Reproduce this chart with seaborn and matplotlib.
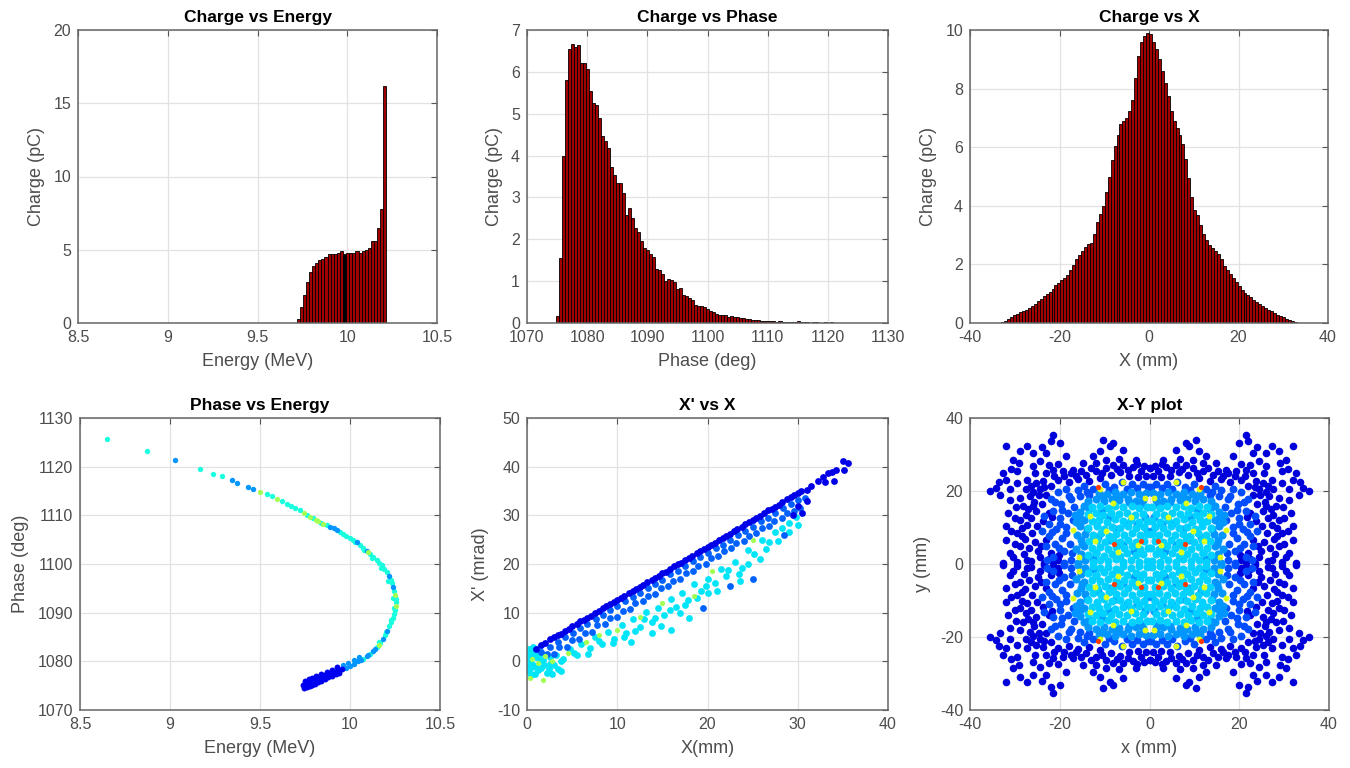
import numpy as np
import pandas as pd
import matplotlib
matplotlib.use("Agg")
import matplotlib.pyplot as plt
import seaborn as sns
from matplotlib.ticker import FuncFormatter

# ---------------- histogram data (charge per bin, pC) ----------------
energy_start, energy_width = 9.718, 0.01724
energy_charge = [0.3, 1.1, 1.9, 2.8, 3.5, 3.9, 4.1, 4.3, 4.4, 4.5, 4.7, 4.7, 4.7, 4.8, 4.9,
                 4.7, 4.8, 4.8, 4.8, 4.9, 4.8, 4.9, 5.0, 5.1, 5.6, 5.6, 6.5, 7.8, 16.2]

phase_start, phase_width = 1074.8, 0.5
phase_charge = [0.17, 1.56, 4.0, 5.8, 6.55, 6.66, 6.6, 6.63, 6.2, 6.2, 6.06, 5.54, 5.26, 5.22, 4.9,
                4.46, 4.34, 4.18, 3.72, 3.53, 3.34, 3.34, 3.1, 2.58, 2.74, 2.5, 2.26, 2.18, 1.96, 1.8,
                1.74, 1.66, 1.58, 1.3, 1.26, 1.16, 1.0, 1.06, 1.02, 0.98, 0.82, 0.84, 0.66, 0.65, 0.6,
                0.54, 0.42, 0.41, 0.41, 0.38, 0.34, 0.28, 0.26, 0.22, 0.2, 0.18, 0.18, 0.14,
                0.16, 0.15, 0.14, 0.12, 0.11, 0.1, 0.09, 0.08, 0.07, 0.06, 0.05, 0.05, 0.04, 0.04,
                0.04, 0.03, 0.04, 0.03, 0.03, 0.02, 0.03, 0.02, 0.04, 0.03, 0.02, 0.02, 0.01, 0.02,
                0.03, 0.01, 0.01, 0.02, 0.01, 0.02, 0.01, 0.01, 0.0, 0.01, 0.01, 0.0, 0.01, 0.0, 0.0, 0.01]

x_start, x_width = -33.0, 0.66
x_charge = [0.03, 0.08, 0.14, 0.22, 0.28, 0.31, 0.36, 0.41, 0.46, 0.52,
            0.58, 0.66, 0.74, 0.83, 0.92, 1.0, 1.07, 1.16, 1.28, 1.36,
            1.46, 1.55, 1.65, 1.8, 1.98, 2.17, 2.32, 2.45, 2.6, 2.68,
            2.74, 3.05, 3.45, 3.72, 4.0, 4.48, 5.0, 5.55, 6.05, 6.42,
            6.8, 6.9, 7.0, 7.25, 7.6, 8.35, 9.1, 9.6, 9.8, 9.9,
            9.85, 9.6, 9.35, 9.0, 8.6, 8.2, 7.75, 7.25, 6.9, 6.65,
            6.4, 6.1, 5.6, 4.95, 4.3, 3.85, 3.68, 3.35, 3.05, 2.82,
            2.66, 2.55, 2.45, 2.35, 2.2, 1.95, 1.8, 1.66, 1.53, 1.4,
            1.26, 1.14, 1.04, 0.96, 0.88, 0.8, 0.72, 0.64, 0.57, 0.5,
            0.45, 0.4, 0.34, 0.28, 0.23, 0.19, 0.15, 0.1, 0.06, 0.02]

# ---------------- Phase vs Energy points (MeV, deg) ----------------
pe_cyan = [(8.648, 1125.7), (8.87, 1123.3), (9.167, 1119.6), (9.24, 1118.5), (9.287, 1118.0),
           (9.537, 1114.3), (9.565, 1113.9), (9.62, 1112.9), (9.648, 1112.4), (9.67, 1112.0),
           (9.694, 1111.5), (9.722, 1111.0), (9.76, 1110.1), (9.796, 1109.4), (9.84, 1108.5),
           (9.87, 1108.0), (9.945, 1106.6), (9.963, 1106.2), (9.98, 1105.8), (10.0, 1105.4),
           (10.018, 1105.0), (10.055, 1103.9), (10.074, 1103.3), (10.111, 1102.1), (10.13, 1101.5),
           (10.148, 1100.9), (10.162, 1100.3), (10.176, 1099.7), (10.19, 1099.0), (10.204, 1098.3),
           (10.226, 1096.8), (10.234, 1096.0), (10.246, 1094.5), (10.253, 1092.9), (10.254, 1092.1),
           (10.25, 1090.6), (10.244, 1089.7), (10.237, 1088.9), (10.228, 1088.0), (10.219, 1087.2),
           (10.194, 1085.4), (10.167, 1083.7), (10.149, 1082.9), (10.112, 1081.6), (10.07, 1080.5),
           (10.24, 1093.0), (10.245, 1091.0), (10.21, 1096.5), (10.17, 1099.2), (10.12, 1101.2),
           (10.08, 1102.8), (10.03, 1104.6), (10.23, 1088.4), (10.2, 1086.0), (10.16, 1084.0)]
pe_blue = [(9.028, 1121.4), (9.343, 1117.2), (9.374, 1116.7), (9.435, 1115.9), (9.46, 1115.5),
           (9.889, 1107.7), (9.91, 1107.3), (9.926, 1106.9), (10.037, 1104.5), (10.092, 1102.7),
           (10.215, 1097.6), (10.241, 1095.3), (10.207, 1086.3), (10.181, 1084.5), (10.13, 1082.2),
           (10.093, 1081.0), (10.046, 1080.0), (10.023, 1079.5), (10.0, 1079.1), (10.02, 1080.3),
           (10.05, 1080.9), (9.99, 1079.7), (9.96, 1079.2), (9.977, 1078.7), (10.14, 1082.6),
           (10.1, 1081.3), (10.06, 1080.2)]
pe_dark = [(9.954, 1078.4), (9.93, 1078.0), (9.907, 1077.7), (9.884, 1077.4), (9.861, 1077.1),
           (9.838, 1076.8), (9.815, 1076.5), (9.797, 1076.1), (9.778, 1075.8), (9.76, 1075.5),
           (9.741, 1075.2), (9.745, 1074.6), (9.76, 1074.7), (9.775, 1074.9), (9.79, 1075.1),
           (9.805, 1075.4), (9.82, 1075.7), (9.84, 1076.0), (9.86, 1076.3), (9.88, 1076.7),
           (9.90, 1077.0), (9.92, 1077.3), (9.94, 1077.6), (9.75, 1075.9), (9.77, 1076.3),
           (9.79, 1076.6), (9.81, 1077.0), (9.84, 1077.3), (9.87, 1077.8), (9.90, 1078.3),
           (9.93, 1078.8)]
pe_green = [(9.50, 1114.8), (9.593, 1113.4), (9.745, 1110.5), (9.78, 1109.7), (9.81, 1109.1),
            (9.824, 1108.8), (9.852, 1108.3), (10.25, 1093.7), (10.253, 1091.3), (10.1, 1102.4),
            (10.16, 1083.3)]

# ---------------- X' vs X points (mm, mrad) ----------------
xp_dark = [(1.0, 2.6), (2.0, 3.8), (3.0, 4.9), (3.8, 5.6), (4.6, 6.6), (5.5, 7.6), (6.3, 8.5),
           (7.1, 9.3), (8.0, 10.4), (8.8, 11.3), (9.6, 12.1), (10.4, 13.0), (11.3, 14.0), (12.1, 14.8),
           (12.9, 15.7), (13.8, 16.7), (14.6, 17.6), (15.4, 18.4), (16.3, 19.5), (17.1, 20.3),
           (17.9, 21.2), (18.8, 22.3), (19.6, 23.0), (20.4, 23.9), (21.3, 25.0), (22.1, 25.8),
           (22.9, 26.7), (23.8, 27.7), (24.6, 28.6), (25.4, 29.4), (26.3, 30.5), (27.1, 31.3),
           (27.9, 32.2), (28.8, 33.3), (29.6, 34.1), (30.4, 34.9), (31.0, 35.3),
           (31.5, 36.0), (32.2, 37.0), (32.8, 37.8), (33.3, 38.6), (33.8, 39.0), (34.2, 39.4),
           (33.0, 36.8), (34.0, 37.0), (35.0, 41.2), (35.6, 40.8), (35.1, 39.3), (31.0, 33.0),
           (30.0, 32.0), (30.5, 30.5), (29.5, 30.0),
           (1.5, 3.4), (2.5, 4.5), (3.4, 5.4), (4.2, 6.3), (5.0, 7.2), (5.9, 8.2), (6.7, 9.0),
           (7.5, 9.9), (8.4, 10.9), (9.2, 11.8), (10.0, 12.6), (10.8, 13.5), (11.7, 14.5),
           (12.5, 15.3), (13.3, 16.2), (14.2, 17.2), (15.0, 18.1), (15.8, 18.9), (16.7, 19.9),
           (17.5, 20.8), (18.3, 21.7), (19.2, 22.7), (20.0, 23.5), (20.8, 24.4), (21.7, 25.4),
           (22.5, 26.2), (23.3, 27.2), (24.2, 28.2), (25.0, 29.0), (25.8, 29.9), (26.7, 31.0),
           (27.5, 31.8), (28.3, 32.7), (29.2, 33.7), (30.0, 34.5)]
xp_blue = [(1.5, 2.0), (2.5, 3.0), (3.4, 4.0), (4.2, 5.0), (5.1, 5.9), (5.9, 6.9), (6.7, 7.7),
           (7.6, 8.8), (8.4, 9.6), (9.2, 10.5), (10.0, 11.4), (10.9, 12.3), (11.7, 13.3), (12.5, 14.1),
           (13.4, 15.1), (14.2, 15.9), (15.0, 16.8), (15.9, 17.9), (16.7, 18.6), (17.5, 19.5),
           (18.4, 20.6), (19.2, 21.4), (20.0, 22.2), (20.9, 23.3), (21.7, 24.0), (22.5, 25.0),
           (23.4, 26.0), (24.2, 26.8), (25.0, 27.6), (25.9, 28.8), (26.7, 29.5), (27.5, 30.4),
           (28.4, 31.5), (29.2, 32.3), (30.0, 33.1), (30.8, 33.6),
           (2.2, 1.5), (3.6, 2.9), (5.0, 4.4), (6.4, 5.8), (7.8, 7.4), (9.2, 8.9), (10.6, 10.4),
           (12.0, 11.9), (13.4, 13.5), (14.8, 15.0), (16.2, 16.6), (17.6, 18.1), (19.0, 19.6),
           (20.4, 21.2), (21.8, 22.7), (23.2, 24.3), (24.6, 25.7), (26.0, 27.3), (27.4, 28.8),
           (28.8, 30.4), (30.2, 31.5), (19.5, 11.0), (22.5, 15.5), (25.0, 17.0), (28.5, 26.0),
           (3.0, 1.5), (4.4, 3.0), (5.8, 4.6), (7.2, 6.1), (8.6, 7.7), (10.0, 9.2), (11.4, 10.8),
           (12.8, 12.3), (14.2, 13.9), (15.6, 15.4), (17.0, 17.0), (18.4, 18.5), (19.8, 20.1),
           (21.2, 21.6), (22.6, 23.2), (24.0, 24.7), (25.4, 26.3), (26.8, 27.8), (28.2, 29.4),
           (29.6, 30.9)]
xp_cyan = [(1.0, -1.0), (1.8, 0.2), (2.6, -0.5), (3.2, 1.2), (4.0, 0.4), (4.8, 2.5), (5.5, 1.3),
           (6.0, 3.6), (7.0, 2.8), (7.5, 4.9), (8.3, 3.5), (9.0, 6.0), (9.6, 4.6), (10.5, 7.5),
           (11.0, 5.8), (11.8, 8.6), (12.5, 7.0), (13.2, 10.2), (13.8, 8.0), (14.5, 11.0),
           (15.2, 9.6), (16.0, 12.8), (16.5, 11.2), (17.2, 14.0), (17.8, 12.5), (18.5, 15.8),
           (19.3, 14.5), (20.0, 17.0), (20.8, 16.0), (21.5, 19.0), (22.3, 18.8), (23.0, 20.5),
           (23.8, 19.2), (24.5, 22.8), (25.2, 22.0), (26.0, 25.0), (26.8, 24.5), (27.5, 26.5),
           (28.2, 27.5), (29.0, 28.5), (29.8, 29.6), (13.8, 5.8), (16.0, 6.5), (17.0, 10.0),
           (23.6, 16.5), (20.0, 14.0), (24.5, 20.0),
           (0.2, 2.5), (0.4, 1.2), (0.3, 0.0), (0.6, -1.2), (0.2, -2.0), (0.8, 2.0), (1.0, 0.8),
           (1.2, -1.8), (1.5, 1.5), (0.5, -0.5), (0.9, -2.6), (1.6, -1.3), (2.2, -2.3), (2.8, -2.6),
           (3.4, -1.6), (2.5, 0.8), (0.1, 1.5), (0.7, 3.0), (1.3, 2.7),
           (3.8, 0.0), (5.2, 1.8), (6.8, 1.5), (8.0, 4.2), (9.5, 3.8), (10.8, 5.0), (12.0, 6.2),
           (13.0, 8.8), (14.2, 9.0), (15.8, 10.5), (17.5, 11.5), (18.8, 13.0), (19.8, 15.5),
           (21.0, 14.5), (22.0, 17.5), (23.5, 18.0), (25.8, 21.0), (26.5, 23.0), (27.8, 24.8),
           (29.0, 26.5), (30.0, 28.0), (11.5, 4.0), (14.8, 7.2), (18.0, 9.0),
           (0.1, -1.0), (0.4, -2.8), (0.1, 0.6), (1.1, 1.8), (1.9, -0.8), (2.4, -1.5), (0.6, 2.2),
           (1.4, 0.3), (3.0, -0.8), (3.8, -2.0)]
xp_green = [(0.5, 0.5), (1.2, -0.3), (2.0, 1.0), (2.8, 0.0), (4.5, 1.8), (6.5, 4.0), (8.0, 5.5),
            (10.0, 6.5), (12.5, 9.2), (15.0, 12.0), (18.5, 13.5), (20.5, 18.5), (25.0, 25.0),
            (0.3, -3.5), (1.8, -3.8)]

# ---------------- X-Y points, one quadrant (mm); the beam is mirror symmetric ----------------
xy_dark = [(0.0, 26.3), (3.0, 28.6), (5.9, 31.3), (8.1, 33.2), (10.4, 34.1), (8.9, 32.2), (11.1, 30.9),
           (12.6, 29.5), (14.8, 27.7), (17.0, 25.8), (18.5, 29.5), (20.0, 33.2), (21.5, 35.4),
           (21.9, 33.6), (23.0, 30.4), (24.4, 28.1), (25.9, 26.8), (27.4, 32.2), (28.9, 30.9),
           (30.4, 28.6), (31.9, 32.2), (29.6, 25.4), (32.6, 24.9), (34.1, 20.8), (35.6, 19.9),
           (33.3, 19.0), (31.1, 17.6), (31.9, 23.1), (29.6, 22.2), (31.5, 14.0), (31.9, 10.3),
           (31.9, 6.7), (31.1, 3.0), (32.6, 0.3), (29.6, 0.5), (27.4, 1.2), (28.9, 4.8), (29.6, 8.5),
           (28.9, 12.1), (28.1, 15.8), (26.7, 18.5), (27.4, 23.1), (25.2, 22.2), (23.0, 24.9),
           (21.5, 25.8), (19.3, 25.4), (16.3, 24.0), (14.1, 24.5), (11.9, 25.4), (9.6, 26.3),
           (8.1, 27.2), (5.9, 27.2), (3.7, 26.6), (1.9, 25.4),
           (20.5, 1.0), (21.5, 0.5), (22.5, 1.5), (20.2, 2.5), (22.0, 3.0), (23.5, 0.3), (24.5, 2.0),
           (24.8, 3.5), (25.5, 6.0), (26.2, 8.5), (25.0, 10.5), (26.5, 12.5), (25.2, 14.5),
           (24.0, 16.5), (25.8, 17.0), (23.0, 19.0), (24.5, 20.5), (22.0, 21.5), (20.5, 23.0),
           (18.0, 22.5), (16.0, 23.2), (13.5, 22.8), (11.0, 23.5), (8.5, 24.5), (6.5, 25.3),
           (4.5, 24.2), (2.5, 23.8), (0.8, 24.0), (27.8, 6.8), (28.5, 10.0), (27.0, 15.0),
           (27.5, 20.5), (25.5, 24.8), (28.8, 18.0), (30.0, 12.5), (30.5, 2.0), (26.5, 0.8), (28.0, 2.8),
           (23.0, 6.5), (24.2, 5.0), (26.8, 4.5), (27.2, 10.8), (26.0, 15.8), (24.6, 18.8), (26.4, 21.5),
           (23.8, 22.8), (21.2, 24.2), (19.0, 24.0), (17.5, 24.8), (15.2, 25.5), (13.0, 26.2),
           (10.5, 24.8), (7.2, 26.0), (4.8, 25.8), (1.2, 26.8), (2.8, 27.5), (6.8, 28.8), (9.8, 28.5),
           (12.0, 27.8), (20.5, 27.5), (22.5, 27.0), (26.0, 30.5), (24.0, 32.0), (29.0, 27.8),
           (30.8, 26.0), (33.5, 22.5), (31.0, 20.5), (29.8, 15.5), (30.8, 9.0), (30.0, 5.5),
           (28.5, 7.8), (27.5, 13.3), (26.0, 19.8), (23.5, 21.0), (22.5, 14.0), (23.8, 11.8), (21.8, 12.8)]
xy_blue = [(17.5, 1.2), (19.0, 3.5), (17.8, 5.5), (19.5, 7.2), (21.0, 5.5), (22.5, 7.8), (20.8, 9.5),
           (18.5, 10.2), (22.5, 11.0), (20.0, 12.5), (23.5, 13.2), (21.5, 14.6), (18.2, 14.0),
           (19.8, 16.5), (22.0, 17.8), (17.5, 17.8), (20.5, 19.8), (18.5, 20.6), (16.0, 20.2),
           (14.5, 21.5), (12.5, 20.5), (10.0, 21.8), (8.0, 21.0), (6.2, 22.5), (3.8, 21.8),
           (1.5, 22.0), (15.5, 18.5), (13.5, 18.8), (19.0, 0.2), (23.0, 4.8), (24.0, 9.0), (21.5, 2.0),
           (17.2, 3.0), (18.5, 8.5), (17.0, 12.0), (16.8, 15.5), (14.0, 19.8), (9.0, 20.3), (5.0, 20.5),
           (2.8, 20.8), (0.3, 21.0), (18.0, 18.5), (20.2, 4.5), (21.8, 8.8), (19.5, 14.8), (21.0, 17.0),
           (22.8, 1.0), (20.0, 11.0)]
xy_mid = [(14.4, 1.0), (16.0, 0.4), (15.3, 2.8), (14.6, 4.8), (16.4, 4.2), (15.3, 6.7), (14.4, 8.3),
          (16.1, 7.9), (15.4, 10.4), (14.7, 12.1), (16.3, 11.5), (15.5, 14.2), (14.5, 16.0),
          (1.4, 17.6), (3.1, 17.3), (4.9, 17.8), (6.7, 17.4), (8.4, 17.9), (10.2, 17.3), (12.0, 17.7),
          (13.8, 17.2), (0.7, 19.4), (2.4, 19.1), (4.2, 19.6), (6.0, 19.2), (7.7, 19.7), (9.5, 19.1),
          (11.3, 19.5),
          (3.5, 3.5), (8.8, 6.5), (5.0, 11.0), (12.0, 3.0), (10.5, 14.8), (14.0, 9.5), (2.0, 16.5),
          (7.0, 18.5), (15.5, 12.5), (0.5, 9.0), (6.0, 5.2), (11.5, 7.5), (2.8, 11.0), (9.0, 13.0),
          (13.5, 15.0), (4.5, 17.0), (15.0, 5.5), (7.5, 9.5), (12.5, 1.5), (1.0, 13.0), (10.5, 18.5),
          (16.5, 13.5)]
xy_cyan = [(0.6, 0.8), (2.3, 0.5), (4.1, 1.1), (5.8, 0.6), (7.4, 1.3), (9.2, 0.7), (11.0, 1.2),
           (12.7, 0.5),
           (1.4, 2.7), (3.1, 2.4), (5.0, 2.9), (6.6, 2.3), (8.4, 2.8), (10.1, 2.2), (11.9, 2.9),
           (13.6, 2.4),
           (0.4, 4.5), (2.2, 4.2), (4.0, 4.8), (5.7, 4.3), (7.5, 4.7), (9.3, 4.1), (11.0, 4.6),
           (12.8, 4.3),
           (1.3, 6.4), (3.0, 6.0), (4.8, 6.6), (6.5, 6.1), (8.2, 6.5), (10.0, 6.0), (11.7, 6.6),
           (13.4, 6.2),
           (0.5, 8.2), (2.1, 7.9), (3.9, 8.4), (5.6, 7.9), (7.4, 8.3), (9.1, 7.8), (10.9, 8.4),
           (12.6, 8.0),
           (1.3, 10.1), (3.1, 9.8), (4.8, 10.3), (6.6, 9.8), (8.3, 10.2), (10.1, 9.7), (11.8, 10.3),
           (13.6, 9.9),
           (0.6, 11.9), (2.4, 11.6), (4.1, 12.1), (5.9, 11.7), (7.6, 12.2), (9.4, 11.6), (11.2, 12.0),
           (12.9, 11.7),
           (1.5, 13.8), (3.2, 13.5), (5.0, 14.0), (6.7, 13.6), (8.5, 14.1), (10.3, 13.5), (12.0, 13.9),
           (13.8, 13.6),
           (0.5, 15.7), (2.3, 15.4), (4.0, 15.9), (5.8, 15.5), (7.6, 16.0), (9.3, 15.4), (11.1, 15.8),
           (12.9, 15.5)]
xy_yellow = [(2.6, 5.3), (7.0, 3.2), (9.6, 9.0), (4.2, 13.0), (12.2, 6.2), (8.2, 16.8), (13.2, 13.2),
             (15.6, 2.0), (1.0, 18.2), (11.0, 20.6), (17.0, 9.2), (6.0, 22.6)]
xy_red = [(2.0, 6.2), (11.5, 21.0), (8.0, 5.5)]

# ---------------- style ----------------
sns.set_style("white")
plt.rcParams["font.family"] = ["Liberation Sans", "DejaVu Sans"]
plt.rcParams["axes.unicode_minus"] = False

TXT = "#4d4d4d"
BAR = "#a00000"


def mirror4(pts):
    a = np.array(pts, dtype=float)
    out = [a * np.array([sx, sy]) for sx in (1, -1) for sy in (1, -1)]
    return np.vstack(out)


def draw_hist(ax, start, width, heights):
    edges = start + width * np.arange(len(heights) + 1)
    df = pd.DataFrame({"center": edges[:-1] + width / 2, "charge": heights})
    sns.histplot(data=df, x="center", weights="charge", bins=list(edges), ax=ax, color=BAR,
                 edgecolor="black", linewidth=0.6, alpha=1.0)


def draw_points(ax, pts, level, size):
    a = np.asarray(pts, dtype=float)
    sns.scatterplot(x=a[:, 0], y=a[:, 1], ax=ax, color=plt.cm.jet(level), s=size,
                    linewidth=0, legend=False)


def style(ax, title, xlabel, ylabel, xlim, ylim, xticks, yticks):
    ax.set_xlim(xlim)
    ax.set_ylim(ylim)
    ax.set_xticks(xticks)
    ax.set_yticks(yticks)
    fmt = FuncFormatter(lambda v, p: f"{v:g}")
    ax.xaxis.set_major_formatter(fmt)
    ax.yaxis.set_major_formatter(fmt)
    ax.grid(True, color="#e2e2e2", linewidth=0.9)
    ax.set_axisbelow(True)
    ax.tick_params(direction="in", top=True, right=True, length=4, width=0.8,
                   color="#555555", labelsize=11.5, labelcolor=TXT, pad=5)
    for sp in ax.spines.values():
        sp.set_color("#666666")
        sp.set_linewidth(1.1)
    ax.set_title(title, fontsize=12.5, fontweight="bold", color="black", pad=6)
    ax.set_xlabel(xlabel, fontsize=13, color=TXT, labelpad=6)
    ax.set_ylabel(ylabel, fontsize=13, color=TXT, labelpad=6)


fig = plt.figure(figsize=(13.5, 7.68), dpi=100)
W, H = 1350.0, 768.0


def axes_at(left, right, top, bottom):
    return fig.add_axes([left / W, 1 - bottom / H, (right - left) / W, (bottom - top) / H])


ax1 = axes_at(78, 437, 30, 323)
ax2 = axes_at(527, 888, 30, 323)
ax3 = axes_at(970, 1328, 30, 323)
ax4 = axes_at(80, 440, 418, 710)
ax5 = axes_at(527, 888, 418, 710)
ax6 = axes_at(970, 1329, 418, 710)

# top row: charge histograms
draw_hist(ax1, energy_start, energy_width, energy_charge)
ax1.patches[15].set_facecolor("black")
style(ax1, "Charge vs Energy", "Energy (MeV)", "Charge (pC)", (8.5, 10.5), (0, 20),
      [8.5, 9, 9.5, 10, 10.5], [0, 5, 10, 15, 20])

draw_hist(ax2, phase_start, phase_width, phase_charge)
style(ax2, "Charge vs Phase", "Phase (deg)", "Charge (pC)", (1070, 1130), (0, 7),
      range(1070, 1131, 10), range(0, 8))

draw_hist(ax3, x_start, x_width, x_charge)
style(ax3, "Charge vs X", "X (mm)", "Charge (pC)", (-40, 40), (0, 10),
      [-40, -20, 0, 20, 40], [0, 2, 4, 6, 8, 10])

# bottom row: particle scatter plots
draw_points(ax4, pe_cyan, 0.38, 15)
draw_points(ax4, pe_blue, 0.27, 15)
draw_points(ax4, pe_dark, 0.10, 18)
draw_points(ax4, pe_green, 0.55, 14)
style(ax4, "Phase vs Energy", "Energy (MeV)", "Phase (deg)", (8.5, 10.5), (1070, 1130),
      [8.5, 9, 9.5, 10, 10.5], range(1070, 1131, 10))

draw_points(ax5, xp_cyan, 0.35, 24)
draw_points(ax5, xp_blue, 0.22, 24)
draw_points(ax5, xp_dark, 0.09, 24)
draw_points(ax5, xp_green, 0.55, 14)
style(ax5, "X' vs X", "X(mm)", "X' (mrad)", (0, 40), (-10, 50),
      [0, 10, 20, 30, 40], range(-10, 51, 10))

draw_points(ax6, mirror4(xy_dark), 0.08, 30)
draw_points(ax6, mirror4(xy_blue), 0.2, 32)
draw_points(ax6, mirror4(xy_mid), 0.27, 34)
draw_points(ax6, mirror4(xy_cyan), 0.33, 34)
draw_points(ax6, mirror4(xy_yellow), 0.62, 18)
draw_points(ax6, mirror4(xy_red), 0.85, 14)
style(ax6, "X-Y plot", "x (mm)", "y (mm)", (-40, 40), (-40, 40),
      [-40, -20, 0, 20, 40], [-40, -20, 0, 20, 40])

fig.savefig("out.png", dpi=100)
